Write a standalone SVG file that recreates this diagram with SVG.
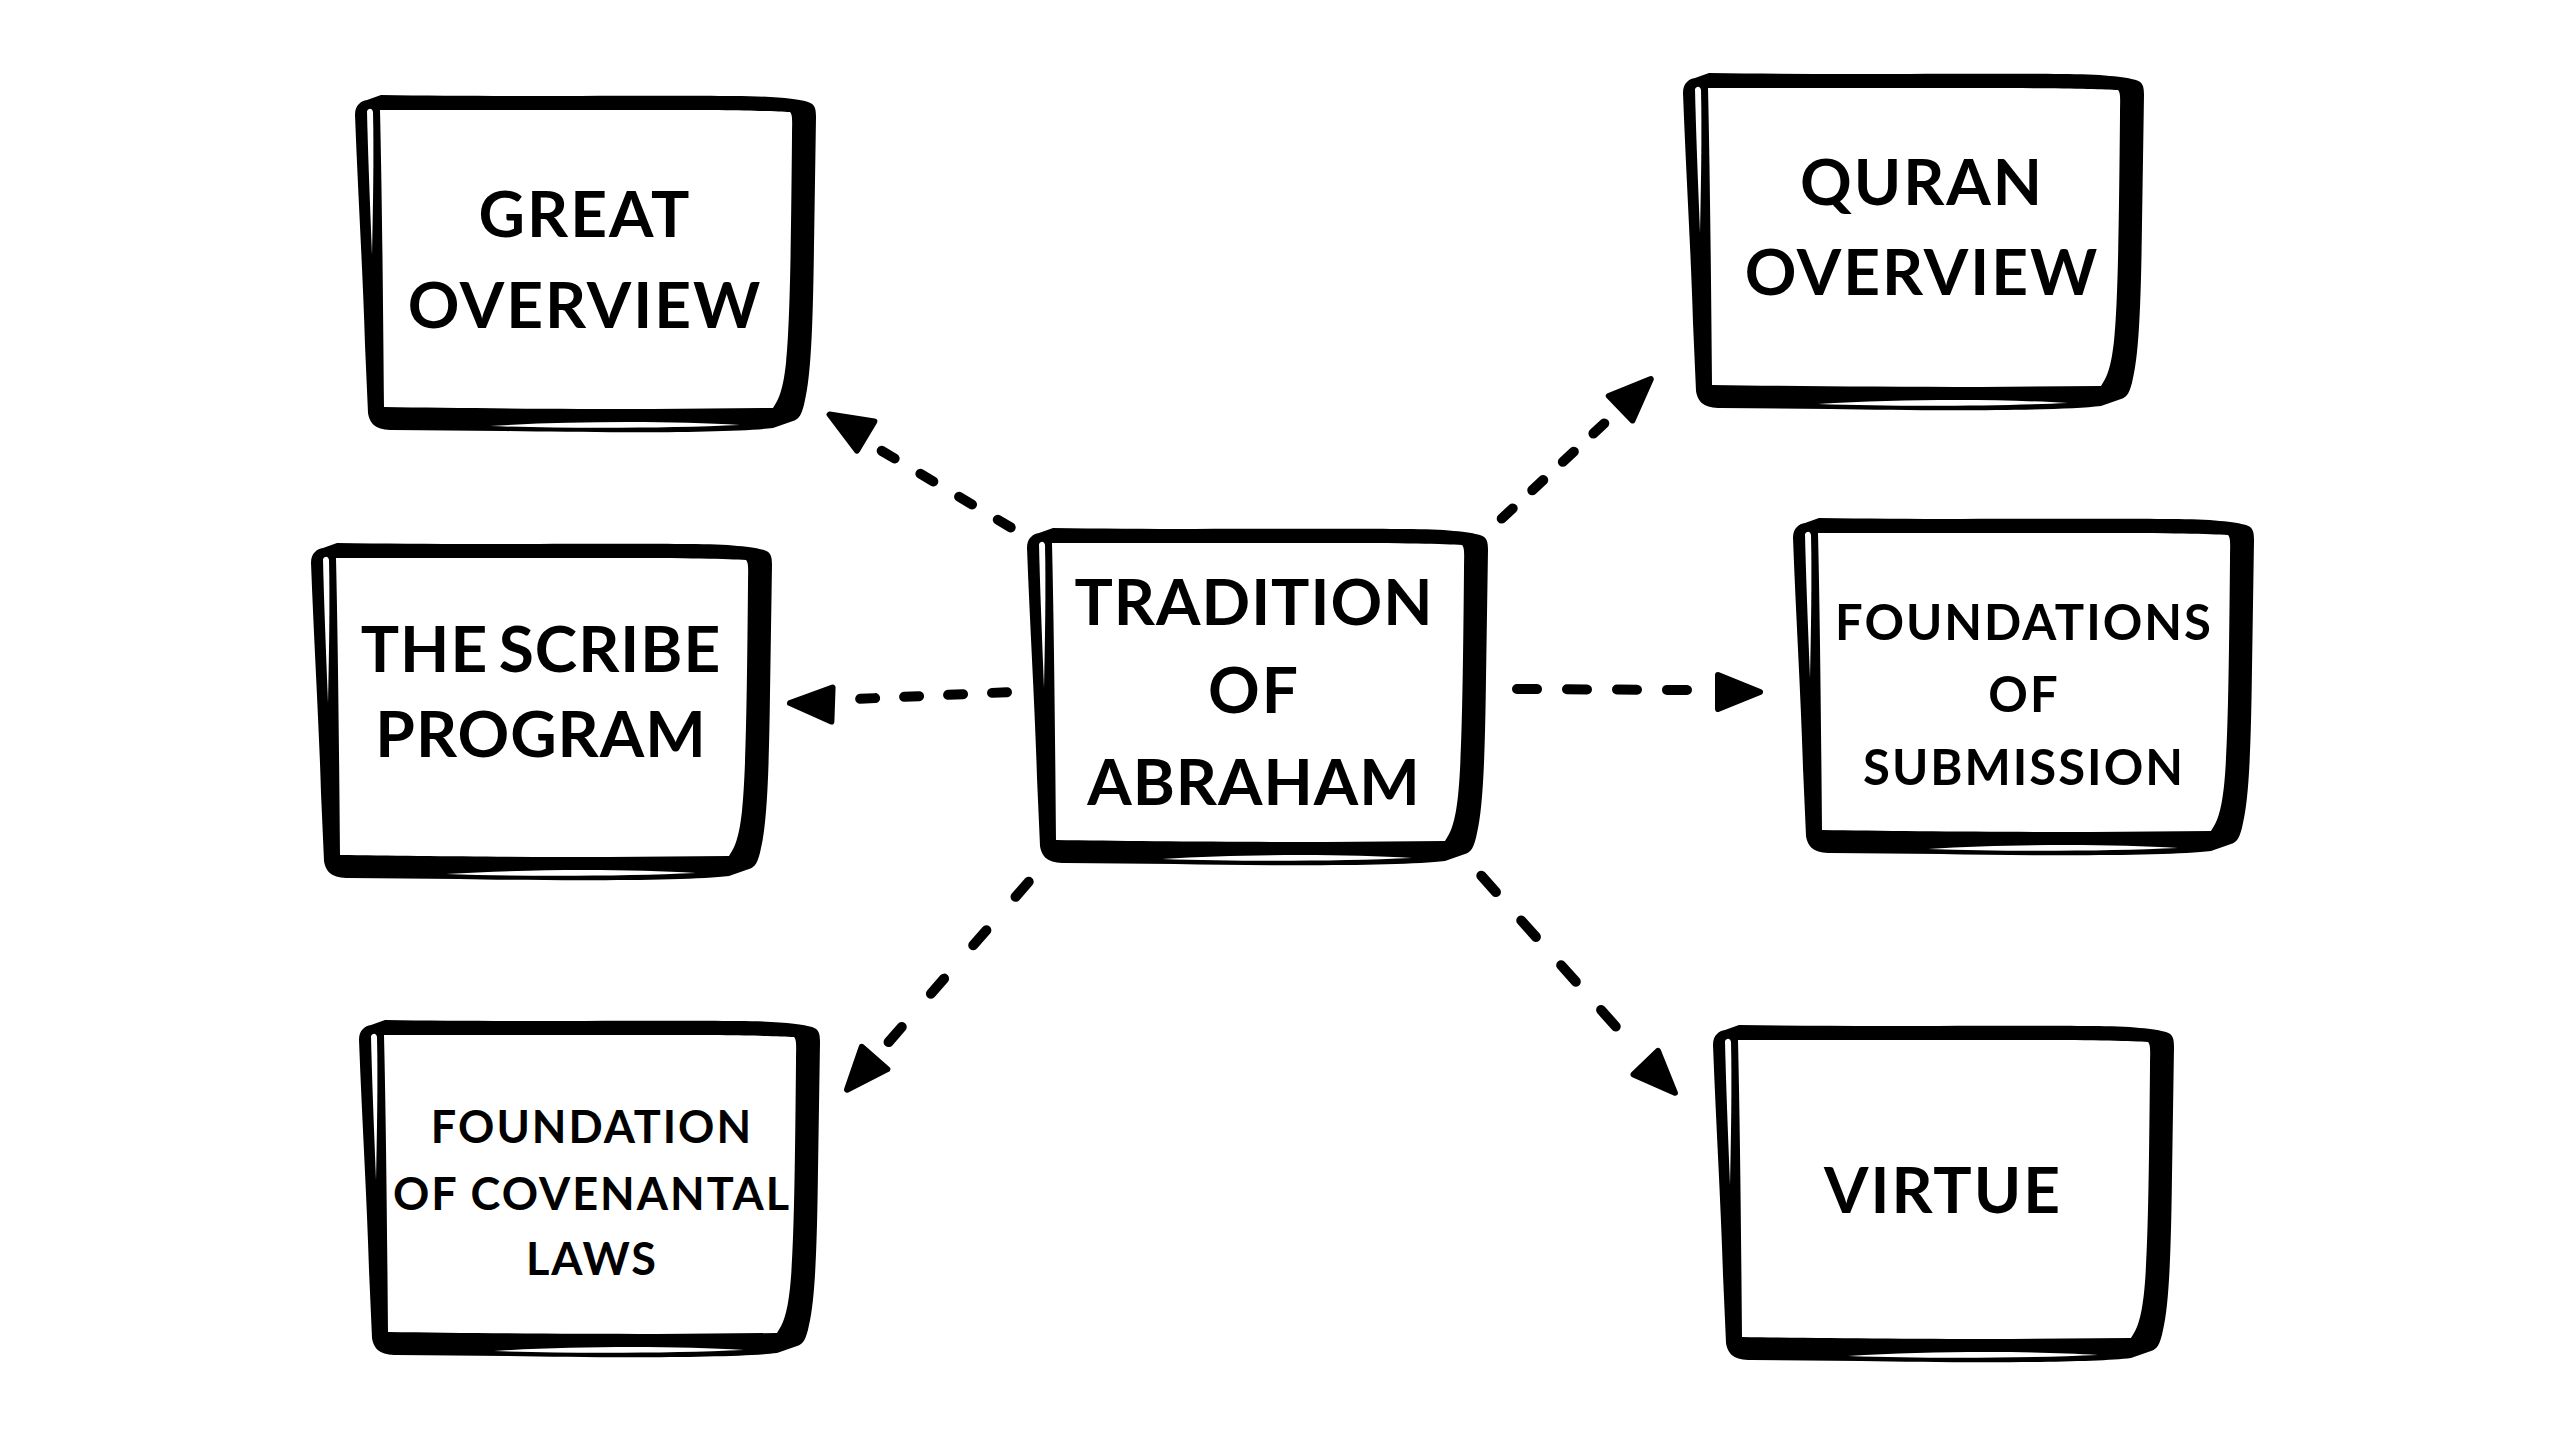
<svg xmlns="http://www.w3.org/2000/svg" xmlns:xlink="http://www.w3.org/1999/xlink" width="2560" height="1440" viewBox="0 0 2560 1440">
<style>
.lbl{font-family:Lato,"Noto Sans","DejaVu Sans",sans-serif;font-weight:700;fill:#000;text-anchor:middle;letter-spacing:2px}
.big{font-size:64px}
.mid{font-size:49px}
.sml{font-size:45px}
.tight{letter-spacing:1px;word-spacing:-6px}
.dash{fill:none;stroke:#000;stroke-width:10;stroke-linecap:round}
</style>
<defs>
<g id="box">
<path fill="#000" fill-rule="evenodd" d="M2,20 C2,10 8,6 14,5 L28,0 C150,2 300,0 380,1 C420,1 445,4 455,7 C462,9 463,14 463,22 L461,150 C460,230 458,280 452,305 C449,320 446,324 440,326 L420,333 C380,338 250,338 150,336 L40,335 C24,335 17,330 15,318 L12,250 C10,180 5,100 2,20 Z M27,15 L300,15 C380,15 420,16 437,17 C440,20 439,27 439,42 C438,150 437,230 433,268 C430,295 426,304 420,313 L300,314 C200,314 100,313 31,312 C30,200 29,100 27,15 Z"/>
<path fill="#fff" d="M14,16 C16,13 19,13 20,17 C21,60 20,110 19,160 C17,110 15,60 14,16 Z"/>
<path fill="#fff" d="M137,331 C220,326 320,326 387,330 C320,333 220,334 137,331 Z"/>
</g>
<path id="ah" fill="#000" stroke="#000" stroke-width="6" stroke-linejoin="round" d="M-45,-17 L-3,0 L-45,17 Z"/>
</defs>
<rect width="2560" height="1440" fill="#fff"/>

<g id="connectors">
<g id="c-great"><path class="dash" stroke-dasharray="15 30" d="M1010.7,527.4 L881.3,450.6"/><use xlink:href="#ah" transform="translate(827,413) rotate(210.7)"/></g>
<g id="c-quran"><path class="dash" stroke-dasharray="15 26.7" d="M1501.7,518.6 L1604.3,423.4"/><use xlink:href="#ah" transform="translate(1653,377) rotate(-44)"/></g>
<g id="c-scribe"><path class="dash" stroke-dasharray="15 29" d="M1007,692.2 L860,698.8"/><use xlink:href="#ah" transform="translate(787,703) rotate(182)"/></g>
<g id="c-submission"><path class="dash" stroke-dasharray="20 30" d="M1517,689 L1687,690"/><use xlink:href="#ah" transform="translate(1763,692) rotate(0)"/></g>
<g id="c-virtue"><path class="dash" stroke-dasharray="22 38" d="M1481.3,875.7 L1618,1029"/><use xlink:href="#ah" transform="translate(1677,1095) rotate(46)"/></g>
<g id="c-covenantal"><path class="dash" stroke-dasharray="20 44.3" d="M1028.7,881.8 L888.4,1042.3"/><use xlink:href="#ah" transform="translate(845,1092) rotate(131)"/></g>
</g>

<g id="n-great" transform="translate(353,95)"><use xlink:href="#box"/>
<text class="lbl big" x="232" y="142">GREAT</text><text class="lbl big" x="232" y="233">OVERVIEW</text></g>

<g id="n-scribe" transform="translate(309,543)"><use xlink:href="#box"/>
<text class="lbl big tight" x="232" y="129">THE SCRIBE</text><text class="lbl big tight" x="232" y="214">PROGRAM</text></g>

<g id="n-covenantal" transform="translate(357,1020)"><use xlink:href="#box"/>
<text class="lbl sml" x="235" y="123">FOUNDATION</text><text class="lbl sml" x="235" y="190">OF COVENANTAL</text><text class="lbl sml" x="235" y="255">LAWS</text></g>

<g id="n-tradition" transform="translate(1025,528)"><use xlink:href="#box"/>
<text class="lbl big tight" x="229" y="97">TRADITION</text><text class="lbl big" x="229" y="185">OF</text><text class="lbl big tight" x="229" y="277">ABRAHAM</text></g>

<g id="n-quran" transform="translate(1681,73)"><use xlink:href="#box"/>
<text class="lbl big" x="241" y="132">QURAN</text><text class="lbl big" x="241" y="222">OVERVIEW</text></g>

<g id="n-submission" transform="translate(1791,518)"><use xlink:href="#box"/>
<text class="lbl mid" x="233" y="122">FOUNDATIONS</text><text class="lbl mid" x="233" y="194">OF</text><text class="lbl mid" x="233" y="267">SUBMISSION</text></g>

<g id="n-virtue" transform="translate(1711,1025)"><use xlink:href="#box"/>
<text class="lbl big" x="232" y="188">VIRTUE</text></g>
</svg>
